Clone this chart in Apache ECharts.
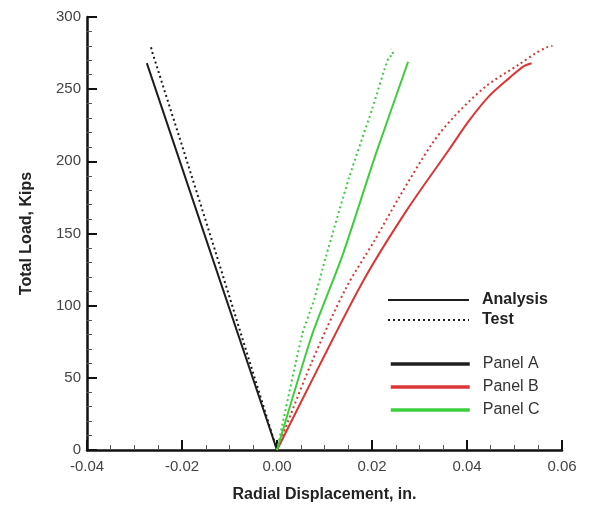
<!DOCTYPE html>
<html>
<head>
<meta charset="utf-8">
<script src="https://cdn.jsdelivr.net/npm/echarts@6/dist/echarts.min.js"></script>
<style>
html,body{margin:0;padding:0;background:#fff;}
#chart{width:589px;height:508px;}
</style>
</head>
<body>
<div id="chart"></div>
<script>
// values (x = radial displacement in., y = total load kips)
var aAnaX = [0, -0.0137, -0.0274];
var aAnaY = [0, 134, 268];
var aTestX = [0, -0.0066, -0.0132, -0.0200, -0.0262, -0.0266];
var aTestY = [0, 70, 140, 211, 275, 280];

var bAnaX = [0, 0.0090, 0.0183, 0.0273, 0.0362, 0.0404, 0.0446, 0.0490, 0.0520, 0.0536];
var bAnaY = [0, 59, 118, 166, 208, 228, 245, 258, 266, 268];
var bTestX = [0, 0.0072, 0.0145, 0.0205, 0.0257, 0.0326, 0.0370, 0.0440, 0.0509, 0.0545, 0.0568, 0.0580];
var bTestY = [0, 60, 112, 145, 175, 212, 230, 252, 267, 275, 279, 280];

var cAnaX = [0, 0.0074, 0.0137, 0.0208, 0.0276];
var cAnaY = [0, 80, 134, 205, 269];
var cTestX = [0, 0.0053, 0.0078, 0.0103, 0.0152, 0.0200, 0.0235, 0.0245, 0.0240];
var cTestY = [0, 80, 104, 134, 189, 236, 272, 274, 278];

var xTicks = [-0.04, -0.02, 0.00, 0.02, 0.04, 0.06];

var cBlack = '#1e1e1e', cRed = '#dd3434', cGreen = '#3ccf3c';

function pairs(xs, ys){
  var out = [];
  for (var i = 0; i < xs.length; i++) out.push([xs[i], ys[i]]);
  return out;
}
function lineSerie(name, color, data, dotted, smooth){
  return {
    name: name,
    type: 'line',
    data: data,
    symbol: 'none',
    smooth: smooth || false,
    lineStyle: { color: color, width: 2, type: dotted ? [2, 3] : 'solid' },
    itemStyle: { color: color }
  };
}

var chart = echarts.init(document.getElementById('chart'));
var axisLine = { show: true, onZero: false, lineStyle: { color: '#111', width: 2.5 } };
var txt = { fontFamily: 'Liberation Sans, Arial, sans-serif' };

chart.setOption({
  animation: false,
  backgroundColor: '#fff',
  textStyle: txt,
  grid: { left: 87, right: 27, top: 17, bottom: 58 },
  xAxis: {
    type: 'value',
    min: xTicks[0], max: xTicks[xTicks.length - 1], interval: 0.02,
    name: 'Radial Displacement, in.',
    nameLocation: 'middle', nameGap: 37,
    nameTextStyle: { fontSize: 16, fontWeight: 'bold', color: '#222' },
    axisLine: axisLine,
    axisTick: { inside: true, length: 10, lineStyle: { color: '#111', width: 2 } },
    minorTick: { show: true, splitNumber: 4, length: 5, lineStyle: { color: '#555', width: 1 } },
    splitLine: { show: false },
    axisLabel: { fontSize: 15, color: '#444', margin: 9, formatter: function(v){ return v.toFixed(2); } }
  },
  yAxis: {
    type: 'value',
    min: 0, max: 300, interval: 50,
    name: 'Total Load, Kips',
    nameLocation: 'middle', nameGap: 52,
    nameTextStyle: { fontSize: 16, fontWeight: 'bold', color: '#222' },
    axisLine: axisLine,
    axisTick: { inside: true, length: 10, lineStyle: { color: '#111', width: 2 } },
    minorTick: { show: true, splitNumber: 5, length: 5, lineStyle: { color: '#555', width: 1 } },
    splitLine: { show: false },
    axisLabel: { fontSize: 15, color: '#444', margin: 6 }
  },
  legend: [{
    left: 382, top: 287, orient: 'vertical',
    itemWidth: 81, itemHeight: 14, itemGap: 4,
    selectedMode: false,
    itemStyle: { opacity: 0 },
    textStyle: { fontSize: 16, color: '#222', fontWeight: 'bold', padding: [0, 0, 0, 8] },
    data: ['Analysis', 'Test']
  }, {
    left: 384, top: 351, orient: 'vertical',
    itemWidth: 79, itemHeight: 14, itemGap: 7,
    selectedMode: false,
    itemStyle: { opacity: 0 },
    textStyle: { fontSize: 16, color: '#333', padding: [0, 0, 0, 8] },
    data: [
      { name: 'Panel A', lineStyle: { width: 3.5 } },
      { name: 'Panel B', lineStyle: { width: 3.5 } },
      { name: 'Panel C', lineStyle: { width: 3.5 } }
    ]
  }],
  series: [
    lineSerie('Analysis', cBlack, [], false),
    lineSerie('Test', cBlack, [], true),
    lineSerie('Panel A', cBlack, pairs(aAnaX, aAnaY), false),
    lineSerie('Panel A Test', cBlack, pairs(aTestX, aTestY), true),
    lineSerie('Panel B', cRed, pairs(bAnaX, bAnaY), false, 0.3),
    lineSerie('Panel B Test', cRed, pairs(bTestX, bTestY), true, 0.3),
    lineSerie('Panel C', cGreen, pairs(cAnaX, cAnaY), false, 0.2),
    lineSerie('Panel C Test', cGreen, pairs(cTestX, cTestY), true, 0.2)
  ]
});
</script>
</body>
</html>
